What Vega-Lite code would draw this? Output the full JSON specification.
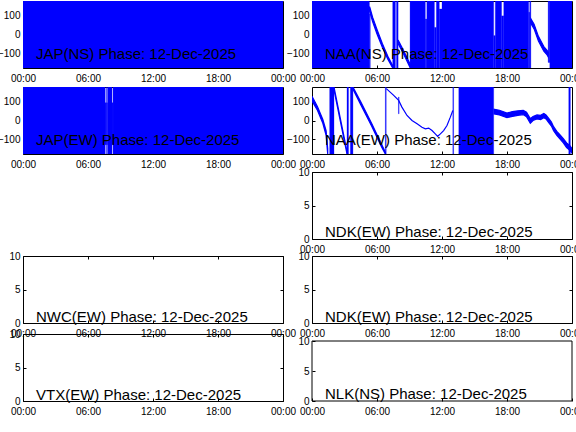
{
  "$schema": "https://vega.github.io/schema/vega-lite/v6.json",
  "autosize": {"type": "pad"},
  "padding": {"left": -4, "top": 0, "right": 0, "bottom": 0},
  "background": "white",
  "datasets": {
    "blocks": [
      {"p": "JAPNS", "t0": 0, "t1": 24, "lo": -180, "hi": 180},
      {"p": "JAPEW", "t0": 0, "t1": 7.58, "lo": -180, "hi": 180},
      {"p": "JAPEW", "t0": 7.58, "t1": 7.66, "lo": -130, "hi": 95},
      {"p": "JAPEW", "t0": 7.66, "t1": 7.7, "lo": -180, "hi": 180},
      {"p": "JAPEW", "t0": 7.7, "t1": 7.8, "lo": -130, "hi": 95},
      {"p": "JAPEW", "t0": 7.8, "t1": 8.22, "lo": -180, "hi": 180},
      {"p": "JAPEW", "t0": 8.22, "t1": 8.31, "lo": -130, "hi": 95},
      {"p": "JAPEW", "t0": 8.31, "t1": 24, "lo": -180, "hi": 180},
      {"p": "NAANS", "t0": 0, "t1": 5.3, "lo": -180, "hi": 180},
      {"p": "NAANS", "t0": 5.3, "t1": 5.38, "lo": -180, "hi": 110},
      {"p": "NAANS", "t0": 7.45, "t1": 7.7, "lo": -180, "hi": 180},
      {"p": "NAANS", "t0": 7.8, "t1": 7.95, "lo": -180, "hi": 180},
      {"p": "NAANS", "t0": 9.05, "t1": 10.46, "lo": -180, "hi": 180},
      {"p": "NAANS", "t0": 10.46, "t1": 10.6, "lo": -180, "hi": 83},
      {"p": "NAANS", "t0": 10.6, "t1": 11.3, "lo": -180, "hi": 180},
      {"p": "NAANS", "t0": 11.3, "t1": 11.48, "lo": -180, "hi": 38},
      {"p": "NAANS", "t0": 11.48, "t1": 11.75, "lo": -180, "hi": 180},
      {"p": "NAANS", "t0": 11.75, "t1": 12.0, "lo": -180, "hi": 137},
      {"p": "NAANS", "t0": 12.0, "t1": 16.77, "lo": -180, "hi": 180},
      {"p": "NAANS", "t0": 16.77, "t1": 16.92, "lo": -180, "hi": -6},
      {"p": "NAANS", "t0": 16.92, "t1": 17.5, "lo": -180, "hi": 180},
      {"p": "NAANS", "t0": 17.5, "t1": 17.7, "lo": -180, "hi": 100},
      {"p": "NAANS", "t0": 17.7, "t1": 20.0, "lo": -180, "hi": 180},
      {"p": "NAANS", "t0": 20.0, "t1": 20.1, "lo": -180, "hi": 120},
      {"p": "NAANS", "t0": 20.1, "t1": 20.2, "lo": -180, "hi": 180},
      {"p": "NAANS", "t0": 21.8, "t1": 21.95, "lo": -150, "hi": 180},
      {"p": "NAANS", "t0": 21.95, "t1": 24, "lo": -180, "hi": 180},
      {"p": "NAAEW", "t0": 1.63, "t1": 2.03, "lo": -180, "hi": 180},
      {"p": "NAAEW", "t0": 3.23, "t1": 3.37, "lo": -180, "hi": 180},
      {"p": "NAAEW", "t0": 3.54, "t1": 3.78, "lo": -180, "hi": 180},
      {"p": "NAAEW", "t0": 6.77, "t1": 6.85, "lo": -180, "hi": 180},
      {"p": "NAAEW", "t0": 7.98, "t1": 8.04, "lo": 36, "hi": 126},
      {"p": "NAAEW", "t0": 13.0, "t1": 13.07, "lo": -180, "hi": 180},
      {"p": "NAAEW", "t0": 13.55, "t1": 16.77, "lo": -180, "hi": 180},
      {"p": "NAAEW", "t0": 23.7, "t1": 23.85, "lo": -180, "hi": 180}
    ],
    "lines": [
      {"p": "NAANS", "s": "n1", "t": 5.32, "lo": 125, "hi": 150},
      {"p": "NAANS", "s": "n1", "t": 5.6, "lo": 68, "hi": 92},
      {"p": "NAANS", "s": "n1", "t": 6.0, "lo": 3, "hi": 27},
      {"p": "NAANS", "s": "n1", "t": 6.5, "lo": -70, "hi": -50},
      {"p": "NAANS", "s": "n1", "t": 7.0, "lo": -133, "hi": -117},
      {"p": "NAANS", "s": "n1", "t": 7.45, "lo": -180, "hi": -168},
      {"p": "NAANS", "s": "n2", "t": 7.95, "lo": -50, "hi": -30},
      {"p": "NAANS", "s": "n2", "t": 8.5, "lo": -110, "hi": -92},
      {"p": "NAANS", "s": "n2", "t": 9.07, "lo": -180, "hi": -160},
      {"p": "NAANS", "s": "n3", "t": 20.2, "lo": 60, "hi": 85},
      {"p": "NAANS", "s": "n3", "t": 20.5, "lo": 30, "hi": 55},
      {"p": "NAANS", "s": "n3", "t": 20.9, "lo": -35, "hi": -10},
      {"p": "NAANS", "s": "n3", "t": 21.4, "lo": -90, "hi": -65},
      {"p": "NAANS", "s": "n3", "t": 21.7, "lo": -110, "hi": -85},
      {"p": "NAANS", "s": "n3", "t": 21.8, "lo": -120, "hi": -95},
      {"p": "NAAEW", "s": "e1", "t": 0, "lo": 105, "hi": 130},
      {"p": "NAAEW", "s": "e1", "t": 0.5, "lo": 55, "hi": 75},
      {"p": "NAAEW", "s": "e1", "t": 1.0, "lo": -15, "hi": 5},
      {"p": "NAAEW", "s": "e1", "t": 1.3, "lo": -80, "hi": -55},
      {"p": "NAAEW", "s": "e1", "t": 1.45, "lo": -180, "hi": -150},
      {"p": "NAAEW", "s": "e2", "t": 2.03, "lo": 165, "hi": 180},
      {"p": "NAAEW", "s": "e2", "t": 2.6, "lo": 0, "hi": 15},
      {"p": "NAAEW", "s": "e2", "t": 3.23, "lo": -180, "hi": -165},
      {"p": "NAAEW", "s": "e3", "t": 3.78, "lo": 168, "hi": 180},
      {"p": "NAAEW", "s": "e3", "t": 4.5, "lo": 85, "hi": 100},
      {"p": "NAAEW", "s": "e3", "t": 5.5, "lo": -30, "hi": -15},
      {"p": "NAAEW", "s": "e3", "t": 6.4, "lo": -140, "hi": -125},
      {"p": "NAAEW", "s": "e3", "t": 6.77, "lo": -180, "hi": -170},
      {"p": "NAAEW", "s": "e4", "t": 6.86, "lo": 171, "hi": 171},
      {"p": "NAAEW", "s": "e4", "t": 7.54, "lo": 135, "hi": 135},
      {"p": "NAAEW", "s": "e4", "t": 8.0, "lo": 108, "hi": 108},
      {"p": "NAAEW", "s": "e4", "t": 8.3, "lo": 72, "hi": 72},
      {"p": "NAAEW", "s": "e4", "t": 8.77, "lo": 27, "hi": 27},
      {"p": "NAAEW", "s": "e4", "t": 9.23, "lo": 0, "hi": 0},
      {"p": "NAAEW", "s": "e4", "t": 9.7, "lo": -18, "hi": -18},
      {"p": "NAAEW", "s": "e4", "t": 10.15, "lo": -36, "hi": -36},
      {"p": "NAAEW", "s": "e4", "t": 10.46, "lo": -45, "hi": -45},
      {"p": "NAAEW", "s": "e4", "t": 10.77, "lo": -41, "hi": -41},
      {"p": "NAAEW", "s": "e4", "t": 11.08, "lo": -54, "hi": -54},
      {"p": "NAAEW", "s": "e4", "t": 11.38, "lo": -72, "hi": -72},
      {"p": "NAAEW", "s": "e4", "t": 11.6, "lo": -85, "hi": -85},
      {"p": "NAAEW", "s": "e4", "t": 11.85, "lo": -72, "hi": -72},
      {"p": "NAAEW", "s": "e4", "t": 12.15, "lo": -54, "hi": -54},
      {"p": "NAAEW", "s": "e4", "t": 12.46, "lo": -27, "hi": -27},
      {"p": "NAAEW", "s": "e4", "t": 12.77, "lo": 18, "hi": 18},
      {"p": "NAAEW", "s": "e4", "t": 13.0, "lo": 54, "hi": 54},
      {"p": "NAAEW", "s": "e5", "t": 16.8, "lo": 35, "hi": 60},
      {"p": "NAAEW", "s": "e5", "t": 17.3, "lo": 30, "hi": 55},
      {"p": "NAAEW", "s": "e5", "t": 18.0, "lo": 15, "hi": 40},
      {"p": "NAAEW", "s": "e5", "t": 18.5, "lo": 22, "hi": 48},
      {"p": "NAAEW", "s": "e5", "t": 19.0, "lo": 28, "hi": 52},
      {"p": "NAAEW", "s": "e5", "t": 19.5, "lo": 32, "hi": 55},
      {"p": "NAAEW", "s": "e5", "t": 19.8, "lo": 20, "hi": 45},
      {"p": "NAAEW", "s": "e5", "t": 20.15, "lo": -15, "hi": 10},
      {"p": "NAAEW", "s": "e5", "t": 20.4, "lo": 0, "hi": 22},
      {"p": "NAAEW", "s": "e5", "t": 20.77, "lo": 8, "hi": 30},
      {"p": "NAAEW", "s": "e5", "t": 21.1, "lo": 5, "hi": 28},
      {"p": "NAAEW", "s": "e5", "t": 21.4, "lo": 15, "hi": 38},
      {"p": "NAAEW", "s": "e5", "t": 21.6, "lo": 8, "hi": 30},
      {"p": "NAAEW", "s": "e5", "t": 21.85, "lo": -12, "hi": 12},
      {"p": "NAAEW", "s": "e5", "t": 22.1, "lo": -30, "hi": -8},
      {"p": "NAAEW", "s": "e5", "t": 22.3, "lo": -55, "hi": -33},
      {"p": "NAAEW", "s": "e5", "t": 22.6, "lo": -80, "hi": -58},
      {"p": "NAAEW", "s": "e5", "t": 22.9, "lo": -100, "hi": -78},
      {"p": "NAAEW", "s": "e5", "t": 23.2, "lo": -120, "hi": -98},
      {"p": "NAAEW", "s": "e5", "t": 23.5, "lo": -145, "hi": -120},
      {"p": "NAAEW", "s": "e5", "t": 23.8, "lo": -160, "hi": -135},
      {"p": "NAAEW", "s": "e5", "t": 24.0, "lo": -175, "hi": -150}
    ],
    "labels": [
      {"p": "JAPNS", "t": 1.2, "v": -131, "txt": "JAP(NS) Phase: 12-Dec-2025"},
      {"p": "JAPEW", "t": 1.2, "v": -131, "txt": "JAP(EW) Phase: 12-Dec-2025"},
      {"p": "NAANS", "t": 1.2, "v": -131, "txt": "NAA(NS) Phase: 12-Dec-2025"},
      {"p": "NAAEW", "t": 1.2, "v": -131, "txt": "NAA(EW) Phase: 12-Dec-2025"},
      {"p": "NDK1", "t": 1.2, "v": 0.25, "txt": "NDK(EW) Phase: 12-Dec-2025"},
      {"p": "NWC", "t": 1.2, "v": 0.2, "txt": "NWC(EW) Phase: 12-Dec-2025"},
      {"p": "NDK2", "t": 1.2, "v": 0.2, "txt": "NDK(EW) Phase: 12-Dec-2025"},
      {"p": "VTX", "t": 1.2, "v": 0.2, "txt": "VTX(EW) Phase: 12-Dec-2025"},
      {"p": "NLK", "t": 1.2, "v": 0.3, "txt": "NLK(NS) Phase: 12-Dec-2025"}
    ],
    "nlkbox": [
      {"a": 0, "a2": 0, "b": 0, "b2": 10},
      {"a": 24, "a2": 24, "b": 0, "b2": 10},
      {"a": 0, "a2": 24, "b": 10, "b2": 10},
      {"a": 0, "a2": 24, "b": 0, "b2": 0}
    ]
  },
  "config": {
    "view": {"stroke": "#000000", "strokeWidth": 1},
    "axis": {
      "domain": false, "grid": false, "title": null,
      "labelFont": "Liberation Sans", "labelFontSize": 10, "labelColor": "#000000",
      "tickColor": "#000000", "tickSize": -3, "labelPadding": 6,
      "labelFlush": false, "labelOverlap": false
    },
    "axisX": {"labelPadding": 8}
  },
  "columns": 2,
  "bounds": "flush",
  "spacing": {"row": 0, "column": 29},
  "concat": [
    {
      "width": 260, "height": 67,
      "layer": [
        {"data": {"name": "blocks"}, "transform": [{"filter": "datum.p == 'JAPNS'"}],
         "mark": {"type": "rect", "color": "#0000ff", "stroke": "#0000ff", "strokeWidth": 0.5, "clip": true},
         "encoding": {
           "x": {"field": "t0", "type": "quantitative", "title": null, "scale": {"domain": [0, 24], "nice": false, "zero": false}, "axis": {"values": [0, 6, 12, 18, 24], "labelExpr": "datum.value == 24 ? '00:00' : (datum.value < 10 ? '0' : '') + datum.value + ':00'"}},
           "x2": {"field": "t1"},
           "y": {"field": "lo", "type": "quantitative", "title": null, "scale": {"domain": [-180, 180], "nice": false, "zero": false}, "axis": {"values": [-100, 0, 100], "labelExpr": "datum.value == 0 ? '0' : datum.label"}},
           "y2": {"field": "hi"}}},
        {"data": {"name": "labels"}, "transform": [{"filter": "datum.p == 'JAPNS'"}],
         "mark": {"type": "text", "align": "left", "baseline": "alphabetic", "font": "Liberation Sans", "fontSize": 15, "color": "#000000"},
         "encoding": {
           "x": {"field": "t", "type": "quantitative", "title": null, "axis": {"values": [0, 6, 12, 18, 24], "labelExpr": "datum.value == 24 ? '00:00' : (datum.value < 10 ? '0' : '') + datum.value + ':00'"}},
           "y": {"field": "v", "type": "quantitative", "title": null, "axis": {"values": [-100, 0, 100], "labelExpr": "datum.value == 0 ? '0' : datum.label"}},
           "text": {"field": "txt"}}}
      ]
    },
    {
      "width": 260, "height": 67,
      "layer": [
        {"data": {"name": "blocks"}, "transform": [{"filter": "datum.p == 'NAANS'"}],
         "mark": {"type": "rect", "color": "#0000ff", "stroke": "#0000ff", "strokeWidth": 0.3, "clip": true},
         "encoding": {
           "x": {"field": "t0", "type": "quantitative", "title": null, "scale": {"domain": [0, 24], "nice": false, "zero": false}, "axis": {"values": [0, 6, 12, 18, 24], "labelExpr": "datum.value == 24 ? '00:00' : (datum.value < 10 ? '0' : '') + datum.value + ':00'"}},
           "x2": {"field": "t1"},
           "y": {"field": "lo", "type": "quantitative", "title": null, "scale": {"domain": [-180, 180], "nice": false, "zero": false}, "axis": {"values": [-100, 0, 100], "labelExpr": "datum.value == 0 ? '0' : datum.label"}},
           "y2": {"field": "hi"}}},
        {"data": {"name": "lines"}, "transform": [{"filter": "datum.p == 'NAANS'"}],
         "mark": {"type": "area", "color": "#0000ff", "stroke": "#0000ff", "strokeWidth": 1.2, "clip": true, "orient": "vertical"},
         "encoding": {
           "x": {"field": "t", "type": "quantitative", "title": null, "axis": {"values": [0, 6, 12, 18, 24], "labelExpr": "datum.value == 24 ? '00:00' : (datum.value < 10 ? '0' : '') + datum.value + ':00'"}},
           "y": {"field": "lo", "type": "quantitative", "title": null, "axis": {"values": [-100, 0, 100], "labelExpr": "datum.value == 0 ? '0' : datum.label"}},
           "y2": {"field": "hi"},
           "detail": {"field": "s"}}},
        {"data": {"name": "labels"}, "transform": [{"filter": "datum.p == 'NAANS'"}],
         "mark": {"type": "text", "align": "left", "baseline": "alphabetic", "font": "Liberation Sans", "fontSize": 15, "color": "#000000"},
         "encoding": {
           "x": {"field": "t", "type": "quantitative", "title": null, "axis": {"values": [0, 6, 12, 18, 24], "labelExpr": "datum.value == 24 ? '00:00' : (datum.value < 10 ? '0' : '') + datum.value + ':00'"}},
           "y": {"field": "v", "type": "quantitative", "title": null, "axis": {"values": [-100, 0, 100], "labelExpr": "datum.value == 0 ? '0' : datum.label"}},
           "text": {"field": "txt"}}}
      ]
    },
    {"width": 260, "height": 19, "view": {"stroke": null}, "data": {"values": []}, "mark": "point", "encoding": {}},
    {"width": 260, "height": 19, "view": {"stroke": null}, "data": {"values": []}, "mark": "point", "encoding": {}},
    {
      "width": 260, "height": 67,
      "layer": [
        {"data": {"name": "blocks"}, "transform": [{"filter": "datum.p == 'JAPEW'"}],
         "mark": {"type": "rect", "color": "#0000ff", "stroke": "#0000ff", "strokeWidth": 0.3, "clip": true},
         "encoding": {
           "x": {"field": "t0", "type": "quantitative", "title": null, "scale": {"domain": [0, 24], "nice": false, "zero": false}, "axis": {"values": [0, 6, 12, 18, 24], "labelExpr": "datum.value == 24 ? '00:00' : (datum.value < 10 ? '0' : '') + datum.value + ':00'"}},
           "x2": {"field": "t1"},
           "y": {"field": "lo", "type": "quantitative", "title": null, "scale": {"domain": [-180, 180], "nice": false, "zero": false}, "axis": {"values": [-100, 0, 100], "labelExpr": "datum.value == 0 ? '0' : datum.label"}},
           "y2": {"field": "hi"}}},
        {"data": {"name": "labels"}, "transform": [{"filter": "datum.p == 'JAPEW'"}],
         "mark": {"type": "text", "align": "left", "baseline": "alphabetic", "font": "Liberation Sans", "fontSize": 15, "color": "#000000"},
         "encoding": {
           "x": {"field": "t", "type": "quantitative", "title": null, "axis": {"values": [0, 6, 12, 18, 24], "labelExpr": "datum.value == 24 ? '00:00' : (datum.value < 10 ? '0' : '') + datum.value + ':00'"}},
           "y": {"field": "v", "type": "quantitative", "title": null, "axis": {"values": [-100, 0, 100], "labelExpr": "datum.value == 0 ? '0' : datum.label"}},
           "text": {"field": "txt"}}}
      ]
    },
    {
      "width": 260, "height": 67,
      "layer": [
        {"data": {"name": "blocks"}, "transform": [{"filter": "datum.p == 'NAAEW'"}],
         "mark": {"type": "rect", "color": "#0000ff", "stroke": "#0000ff", "strokeWidth": 0.3, "clip": true},
         "encoding": {
           "x": {"field": "t0", "type": "quantitative", "title": null, "scale": {"domain": [0, 24], "nice": false, "zero": false}, "axis": {"values": [0, 6, 12, 18, 24], "labelExpr": "datum.value == 24 ? '00:00' : (datum.value < 10 ? '0' : '') + datum.value + ':00'"}},
           "x2": {"field": "t1"},
           "y": {"field": "lo", "type": "quantitative", "title": null, "scale": {"domain": [-180, 180], "nice": false, "zero": false}, "axis": {"values": [-100, 0, 100], "labelExpr": "datum.value == 0 ? '0' : datum.label"}},
           "y2": {"field": "hi"}}},
        {"data": {"name": "lines"}, "transform": [{"filter": "datum.p == 'NAAEW'"}],
         "mark": {"type": "area", "color": "#0000ff", "stroke": "#0000ff", "strokeWidth": 1.2, "clip": true, "orient": "vertical"},
         "encoding": {
           "x": {"field": "t", "type": "quantitative", "title": null, "axis": {"values": [0, 6, 12, 18, 24], "labelExpr": "datum.value == 24 ? '00:00' : (datum.value < 10 ? '0' : '') + datum.value + ':00'"}},
           "y": {"field": "lo", "type": "quantitative", "title": null, "axis": {"values": [-100, 0, 100], "labelExpr": "datum.value == 0 ? '0' : datum.label"}},
           "y2": {"field": "hi"},
           "detail": {"field": "s"}}},
        {"data": {"name": "labels"}, "transform": [{"filter": "datum.p == 'NAAEW'"}],
         "mark": {"type": "text", "align": "left", "baseline": "alphabetic", "font": "Liberation Sans", "fontSize": 15, "color": "#000000"},
         "encoding": {
           "x": {"field": "t", "type": "quantitative", "title": null, "axis": {"values": [0, 6, 12, 18, 24], "labelExpr": "datum.value == 24 ? '00:00' : (datum.value < 10 ? '0' : '') + datum.value + ':00'"}},
           "y": {"field": "v", "type": "quantitative", "title": null, "axis": {"values": [-100, 0, 100], "labelExpr": "datum.value == 0 ? '0' : datum.label"}},
           "text": {"field": "txt"}}}
      ]
    },
    {"width": 260, "height": 18, "view": {"stroke": null}, "data": {"values": []}, "mark": "point", "encoding": {}},
    {"width": 260, "height": 18, "view": {"stroke": null}, "data": {"values": []}, "mark": "point", "encoding": {}},
    {"width": 260, "height": 67, "view": {"stroke": null}, "data": {"values": []}, "mark": "point", "encoding": {}},
    {
      "width": 260, "height": 67,
      "data": {"name": "labels"}, "transform": [{"filter": "datum.p == 'NDK1'"}],
      "layer": [
        {"mark": {"type": "text", "align": "left", "baseline": "alphabetic", "font": "Liberation Sans", "fontSize": 15, "color": "#000000"},
         "encoding": {
           "x": {"field": "t", "type": "quantitative", "title": null, "scale": {"domain": [0, 24], "nice": false, "zero": false}, "axis": {"values": [0, 6, 12, 18, 24], "labelExpr": "datum.value == 24 ? '00:00' : (datum.value < 10 ? '0' : '') + datum.value + ':00'"}},
           "y": {"field": "v", "type": "quantitative", "title": null, "scale": {"domain": [0, 10], "nice": false}, "axis": {"values": [0, 5, 10]}},
           "text": {"field": "txt"}}},
        {"mark": {"type": "point", "opacity": 0},
         "encoding": {
           "x": {"field": "t", "type": "quantitative", "title": null, "axis": {"orient": "top", "labels": false, "values": [0, 6, 12, 18, 24]}},
           "y": {"field": "v", "type": "quantitative", "title": null, "axis": {"orient": "right", "labels": false, "values": [0, 5, 10]}}}}
      ],
      "resolve": {"axis": {"x": "independent", "y": "independent"}}
    },
    {"width": 260, "height": 17, "view": {"stroke": null}, "data": {"values": []}, "mark": "point", "encoding": {}},
    {"width": 260, "height": 17, "view": {"stroke": null}, "data": {"values": []}, "mark": "point", "encoding": {}},
    {
      "width": 260, "height": 67,
      "data": {"name": "labels"}, "transform": [{"filter": "datum.p == 'NWC'"}],
      "layer": [
        {"mark": {"type": "text", "align": "left", "baseline": "alphabetic", "font": "Liberation Sans", "fontSize": 15, "color": "#000000"},
         "encoding": {
           "x": {"field": "t", "type": "quantitative", "title": null, "scale": {"domain": [0, 24], "nice": false, "zero": false}, "axis": {"values": [0, 6, 12, 18, 24], "labelExpr": "datum.value == 24 ? '00:00' : (datum.value < 10 ? '0' : '') + datum.value + ':00'"}},
           "y": {"field": "v", "type": "quantitative", "title": null, "scale": {"domain": [0, 10], "nice": false}, "axis": {"values": [0, 5, 10]}},
           "text": {"field": "txt"}}},
        {"mark": {"type": "point", "opacity": 0},
         "encoding": {
           "x": {"field": "t", "type": "quantitative", "title": null, "axis": {"orient": "top", "labels": false, "values": [0, 6, 12, 18, 24]}},
           "y": {"field": "v", "type": "quantitative", "title": null, "axis": {"orient": "right", "labels": false, "values": [0, 5, 10]}}}}
      ],
      "resolve": {"axis": {"x": "independent", "y": "independent"}}
    },
    {
      "width": 260, "height": 67,
      "data": {"name": "labels"}, "transform": [{"filter": "datum.p == 'NDK2'"}],
      "layer": [
        {"mark": {"type": "text", "align": "left", "baseline": "alphabetic", "font": "Liberation Sans", "fontSize": 15, "color": "#000000"},
         "encoding": {
           "x": {"field": "t", "type": "quantitative", "title": null, "scale": {"domain": [0, 24], "nice": false, "zero": false}, "axis": {"values": [0, 6, 12, 18, 24], "labelExpr": "datum.value == 24 ? '00:00' : (datum.value < 10 ? '0' : '') + datum.value + ':00'"}},
           "y": {"field": "v", "type": "quantitative", "title": null, "scale": {"domain": [0, 10], "nice": false}, "axis": {"values": [0, 5, 10]}},
           "text": {"field": "txt"}}},
        {"mark": {"type": "point", "opacity": 0},
         "encoding": {
           "x": {"field": "t", "type": "quantitative", "title": null, "axis": {"orient": "top", "labels": false, "values": [0, 6, 12, 18, 24]}},
           "y": {"field": "v", "type": "quantitative", "title": null, "axis": {"orient": "right", "labels": false, "values": [0, 5, 10]}}}}
      ],
      "resolve": {"axis": {"x": "independent", "y": "independent"}}
    },
    {"width": 260, "height": 11, "view": {"stroke": null}, "data": {"values": []}, "mark": "point", "encoding": {}},
    {"width": 260, "height": 11, "view": {"stroke": null}, "data": {"values": []}, "mark": "point", "encoding": {}},
    {
      "width": 260, "height": 67,
      "data": {"name": "labels"}, "transform": [{"filter": "datum.p == 'VTX'"}],
      "layer": [
        {"mark": {"type": "text", "align": "left", "baseline": "alphabetic", "font": "Liberation Sans", "fontSize": 15, "color": "#000000"},
         "encoding": {
           "x": {"field": "t", "type": "quantitative", "title": null, "scale": {"domain": [0, 24], "nice": false, "zero": false}, "axis": {"values": [0, 6, 12, 18, 24], "labelExpr": "datum.value == 24 ? '00:00' : (datum.value < 10 ? '0' : '') + datum.value + ':00'"}},
           "y": {"field": "v", "type": "quantitative", "title": null, "scale": {"domain": [0, 10], "nice": false}, "axis": {"values": [0, 5, 10]}},
           "text": {"field": "txt"}}},
        {"mark": {"type": "point", "opacity": 0},
         "encoding": {
           "x": {"field": "t", "type": "quantitative", "title": null, "axis": {"orient": "top", "labels": false, "values": [0, 6, 12, 18, 24]}},
           "y": {"field": "v", "type": "quantitative", "title": null, "axis": {"orient": "right", "labels": false, "values": [0, 5, 10]}}}}
      ],
      "resolve": {"axis": {"x": "independent", "y": "independent"}}
    },
    {
      "width": 260, "height": 67,
      "view": {"stroke": null},
      "layer": [
        {"data": {"name": "nlkbox"},
         "mark": {"type": "rule", "color": "#000000", "strokeWidth": 1},
         "encoding": {
           "x": {"field": "a", "type": "quantitative", "title": null, "scale": {"domain": [0, 24], "nice": false, "zero": false}, "axis": {"values": [0, 6, 12, 18, 24], "labelExpr": "datum.value == 24 ? '00:00' : (datum.value < 10 ? '0' : '') + datum.value + ':00'"}},
           "x2": {"field": "a2"},
           "y": {"field": "b", "type": "quantitative", "title": null, "scale": {"domain": [0, 11.1667], "nice": false, "zero": false}, "axis": {"values": [0, 5, 10]}},
           "y2": {"field": "b2"}}},
        {"data": {"name": "labels"}, "transform": [{"filter": "datum.p == 'NLK'"}],
         "mark": {"type": "text", "align": "left", "baseline": "alphabetic", "font": "Liberation Sans", "fontSize": 15, "color": "#000000"},
         "encoding": {
           "x": {"field": "t", "type": "quantitative", "title": null, "axis": {"values": [0, 6, 12, 18, 24], "labelExpr": "datum.value == 24 ? '00:00' : (datum.value < 10 ? '0' : '') + datum.value + ':00'"}},
           "y": {"field": "v", "type": "quantitative", "title": null, "axis": {"values": [0, 5, 10]}},
           "text": {"field": "txt"}}}
      ]
    }
  ]
}
